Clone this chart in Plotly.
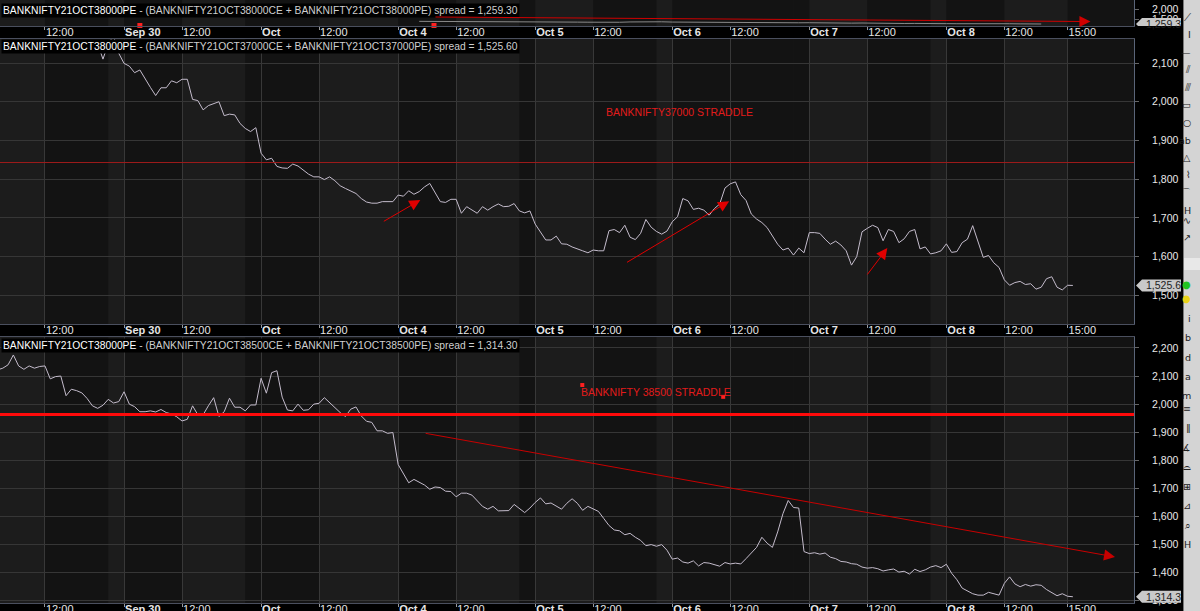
import plotly.graph_objects as go
import pandas as pd

# ---------------- data ----------------
trading_days = ["2021-09-29", "2021-09-30", "2021-10-01", "2021-10-04",
                "2021-10-05", "2021-10-06", "2021-10-07", "2021-10-08"]
day_labels = ["Sep 29", "Sep 30", "Oct", "Oct 4", "Oct 5", "Oct 6", "Oct 7", "Oct 8"]

# 15-minute closes of the 37000 straddle spread (middle pane), from 2021-09-29 14:30
mid_start = "2021-09-29 14:30"
mid_values = [
    2150, 2110, 2150, 2170, 2125, 2099, 2092, 2075, 2082, 2058,
    2037, 2016, 2036, 2036, 2054, 2049, 2058, 2058, 2006, 2003,
    1979, 1990, 1996, 2000, 1964, 1968, 1966, 1944, 1931, 1923,
    1933, 1867, 1850, 1854, 1833, 1829, 1828, 1839, 1834, 1824,
    1813, 1806, 1806, 1799, 1806, 1796, 1783, 1776, 1770, 1763,
    1750, 1741, 1738, 1738, 1742, 1742, 1742, 1759, 1756, 1770,
    1761, 1768, 1780, 1789, 1765, 1742, 1740, 1748, 1748, 1712,
    1729, 1720, 1712, 1729, 1720, 1729, 1736, 1729, 1730, 1737,
    1718, 1713, 1718, 1684, 1665, 1643, 1643, 1653, 1633, 1632,
    1625, 1621, 1615, 1610, 1617, 1615, 1615, 1667, 1670, 1662,
    1681, 1650, 1644, 1660, 1696, 1676, 1665, 1658, 1666, 1690,
    1703, 1750, 1744, 1722, 1725, 1720, 1707, 1724, 1736, 1777,
    1788, 1793, 1760, 1745, 1710, 1697, 1688, 1675, 1655, 1632,
    1617, 1622, 1604, 1622, 1610, 1662, 1662, 1660, 1645, 1632,
    1640, 1630, 1615, 1578, 1600, 1664, 1673, 1681, 1675, 1641,
    1670, 1665, 1636, 1646, 1665, 1670, 1620, 1625, 1607, 1610,
    1615, 1633, 1611, 1613, 1636, 1645, 1680, 1640, 1598, 1603,
    1584, 1572, 1540, 1526, 1533, 1536, 1528, 1530, 1516, 1521,
    1543, 1548, 1521, 1514, 1526, 1525.6,
]

# 15-minute closes of the 38500 straddle spread (bottom pane), from 2021-09-29 09:45
bot_start = "2021-09-29 09:45"
bot_values = [
    2122, 2128, 2140, 2175, 2136, 2124, 2136, 2128, 2134, 2136,
    2090, 2098, 2100, 2030, 2053, 2048, 2040, 2020, 1994, 1985,
    1996, 2017, 2004, 2009, 2044, 2000, 1991, 1973, 1973, 1976,
    1972, 1981, 1970, 1965, 1955, 1940, 1946, 1994, 1962, 1962,
    1994, 2023, 1956, 1973, 2021, 1989, 1989, 1976, 1997, 1997,
    2092, 2039, 2112, 2119, 2025, 1979, 1976, 2000, 1978, 1980,
    2000, 2003, 2023, 2005, 1985, 1970, 1956, 1982, 1990, 1958,
    1939, 1935, 1905, 1905, 1896, 1899, 1785, 1755, 1720, 1732,
    1722, 1712, 1697, 1705, 1703, 1690, 1689, 1670, 1683, 1683,
    1676, 1654, 1636, 1626, 1636, 1620, 1620, 1621, 1643, 1630,
    1614, 1630, 1650, 1666, 1645, 1648, 1636, 1626, 1647, 1663,
    1647, 1622, 1636, 1628, 1618, 1593, 1568, 1552, 1549, 1535,
    1540, 1526, 1515, 1496, 1500, 1494, 1500, 1480, 1448, 1452,
    1438, 1434, 1442, 1424, 1436, 1434, 1429, 1423, 1436, 1431,
    1434, 1431, 1450, 1470, 1490, 1526, 1505, 1490, 1545, 1610,
    1657, 1632, 1630, 1475, 1468, 1471, 1466, 1470, 1455, 1450,
    1440, 1438, 1432, 1430, 1420, 1416, 1418, 1414, 1406, 1410,
    1413, 1402, 1405, 1395, 1412, 1404, 1410, 1420, 1425, 1418,
    1430, 1398, 1375, 1345, 1335, 1325, 1320, 1320, 1330, 1326,
    1320, 1362, 1385, 1360, 1350, 1358, 1352, 1357, 1355, 1340,
    1330, 1318, 1325, 1316, 1314.3,
]

# 30-minute closes of the 38000 straddle spread (top pane), from 2021-10-04 10:15
top_start = "2021-10-04 10:15"
top_values = [
    1390, 1385, 1395, 1380, 1370, 1375, 1365, 1372, 1360, 1355,
    1350, 1362, 1358, 1345, 1340, 1352, 1348, 1340, 1335, 1345,
    1360, 1372, 1380, 1368, 1355, 1350, 1342, 1338, 1345, 1350,
    1330, 1322, 1318, 1325, 1320, 1312, 1318, 1322, 1310, 1305,
    1300, 1302, 1308, 1296, 1290, 1292, 1285, 1288, 1295, 1280,
    1276, 1272, 1278, 1270, 1268, 1265, 1272, 1266, 1262, 1259.3,
]

mid_level = 1843      # horizontal study line, middle pane
bot_level = 1963      # horizontal study line, bottom pane

# ---------------- helpers ----------------
def session_bars():
    out = []
    for d in trading_days:
        base = pd.Timestamp(d + " 09:15")
        for i in range(26):
            out.append(base + pd.Timedelta(minutes=15 * i))
    return out

ALL_BARS = session_bars()

def bars_from(start, n, step=1):
    i0 = ALL_BARS.index(pd.Timestamp(start))
    return ALL_BARS[i0: i0 + n * step: step]

mid_x = bars_from(mid_start, len(mid_values))
bot_x = bars_from(bot_start, len(bot_values))
top_x = bars_from(top_start, len(top_values), 2)

FONT = "Liberation Sans"
LINE_C = "#c4bccc"
X_RANGE = ["2021-09-29 09:52", "2021-10-11 11:39"]

# tick labels
tickvals, ticktext = [], []
for i, d in enumerate(trading_days):
    if i > 0:
        tickvals.append(d + " 09:15")
        ticktext.append("<b>%s</b>" % day_labels[i])
    tickvals.append(d + " 12:00")
    ticktext.append("12:00")
tickvals.append(trading_days[-1] + " 15:00")
ticktext.append("15:00")

fig = go.Figure()
fig.add_trace(go.Scatter(x=top_x, y=top_values, mode="lines", line=dict(color="#8a8a8a", width=1),
                         xaxis="x", yaxis="y", hoverinfo="skip", showlegend=False))
fig.add_trace(go.Scatter(x=mid_x, y=mid_values, mode="lines", line=dict(color=LINE_C, width=1),
                         xaxis="x2", yaxis="y2", showlegend=False))
fig.add_trace(go.Scatter(x=bot_x, y=bot_values, mode="lines", line=dict(color=LINE_C, width=1),
                         xaxis="x3", yaxis="y3", showlegend=False))

H = 611.0
W = 1134.0
doms = {
    "": [1 - 26 / H, 1.0],
    "2": [1 - 324 / H, 1 - 39 / H],
    "3": [1 - 603 / H, 1 - 337 / H],
}
yranges = {"": [1160, 2445], "2": [1426, 2162], "3": [1292, 2239]}
ytickv = {"": [1500, 2000], "2": list(range(1500, 2101, 100)), "3": list(range(1300, 2201, 100))}

layout = dict(
    width=1200, height=611,
    margin=dict(l=0, r=66, t=0, b=0, autoexpand=False),
    paper_bgcolor="#000000", plot_bgcolor="#1c1c1c",
    font=dict(family=FONT, size=11, color="#e0e0e0"),
    showlegend=False,
)
for k in ["", "2", "3"]:
    layout["xaxis" + k] = dict(
        type="date", range=X_RANGE, anchor="y" + k, domain=[0, 1],
        rangebreaks=[dict(bounds=["sat", "mon"]), dict(bounds=[15.75, 9.25], pattern="hour")],
        tickmode="array", tickvals=tickvals, ticktext=ticktext,
        ticks="outside", ticklen=3, tickcolor="#9a9a9a",
        ticklabelposition="outside right", ticklabelstandoff=-4,
        tickfont=dict(family=FONT, size=11, color="#e6e6e6"),
        showgrid=(k != ""), gridcolor="#383838", gridwidth=1,
        showline=True, mirror=True, linecolor="#4a4f5e", linewidth=1,
        zeroline=False, fixedrange=True, automargin=False,
    )
    layout["yaxis" + k] = dict(
        domain=doms[k], range=yranges[k], anchor="x" + k, side="right",
        tickmode="array", tickvals=ytickv[k], tickformat=",",
        ticks="outside", ticklen=4, tickcolor="#666666",
        ticklabelstandoff=11,
        tickfont=dict(family=FONT, size=10.5, color="#e8e8e8"),
        showgrid=(k != ""), gridcolor="#363636", gridwidth=1,
        showline=True, linecolor="#5a6478", linewidth=1,
        zeroline=False, fixedrange=True, automargin=False,
    )
fig.update_layout(**layout)

shapes = []
# shading bands (darker session segments)
segs = [("09:15", "12:00"), ("12:00", "15:00"), ("15:00", "15:45")]
dark = [(0, 1), (1, 0), (1, 2), (2, 0), (3, 0), (3, 2), (4, 1), (5, 0), (5, 1), (5, 2),
        (6, 1), (7, 0), (7, 2)]
for k in ["", "2", "3"]:
    for (di, si) in dark:
        d = trading_days[di]
        x0 = d + " " + segs[si][0]
        x1 = d + " " + segs[si][1]
        if di == len(trading_days) - 1 and si == 2:
            x1 = "2021-10-11 12:00"
        shapes.append(dict(type="rect", xref="x" + k, yref=("y" + k + " domain"),
                           x0=x0, x1=x1, y0=0, y1=1, fillcolor="#131313",
                           line=dict(width=0), layer="below"))

# horizontal study lines
shapes.append(dict(type="line", xref="x2 domain", yref="y2", x0=0, x1=1, y0=mid_level, y1=mid_level,
                   line=dict(color="#9e1b1b", width=1)))
shapes.append(dict(type="line", xref="x3 domain", yref="y3", x0=0, x1=1, y0=bot_level, y1=bot_level,
                   line=dict(color="#ff0a0a", width=3)))

# right toolbar
shapes.append(dict(type="rect", xref="paper", yref="paper", x0=1184 / W, x1=1201 / W, y0=0, y1=1,
                   fillcolor="#d4d4d4", line=dict(width=0), layer="above"))
shapes.append(dict(type="rect", xref="paper", yref="paper", x0=1184 / W, x1=1201 / W,
                   y0=1 - 270 / H, y1=1 - 258 / H,
                   fillcolor="#e8e8e8", line=dict(width=0), layer="above"))
shapes.append(dict(type="line", xref="paper", yref="paper", x0=1183.5 / W, x1=1183.5 / W, y0=0, y1=1,
                   line=dict(color="#7a7a7a", width=1)))

# last-value pointer labels
for yref, val in [("y", 1259.3), ("y2", 1525.6), ("y3", 1314.3)]:
    shapes.append(dict(type="path", xref="paper", yref=yref, xsizemode="pixel", ysizemode="pixel",
                       xanchor=1.0, yanchor=val,
                       path="M 2,0 L 8,6 L 47,6 L 47,-6 L 8,-6 Z",
                       fillcolor="#c9c9c9", line=dict(width=0), layer="above"))
fig.update_layout(shapes=shapes)

ann = []
def title(text_main, text_rest, ypix):
    return dict(xref="paper", yref="paper", x=0, y=1 - ypix / H, xanchor="left", yanchor="middle",
                showarrow=False, bgcolor="#000000", borderpad=1, xshift=1,
                text="<span style='color:#ffffff'>%s</span><span style='color:#cfcfcf'>%s</span>" % (text_main, text_rest),
                font=dict(family=FONT, size=10.3))

ann.append(title("BANKNIFTY21OCT38000PE", " - (BANKNIFTY21OCT38000CE + BANKNIFTY21OCT38000PE) spread = 1,259.30", 10))
ann.append(title("BANKNIFTY21OCT38000PE", " - (BANKNIFTY21OCT37000CE + BANKNIFTY21OCT37000PE) spread = 1,525.60", 47))
ann.append(title("BANKNIFTY21OCT38000PE", " - (BANKNIFTY21OCT38500CE + BANKNIFTY21OCT38500PE) spread = 1,314.30", 345))

for yref, val, txt in [("y", 1259.3, "1,259.3"), ("y2", 1525.6, "1,525.6"), ("y3", 1314.3, "1,314.3")]:
    ann.append(dict(xref="paper", yref=yref, x=1.0, y=val, xanchor="left", yanchor="middle", xshift=10,
                    showarrow=False, text=txt, font=dict(family=FONT, size=10.5, color="#1e1e1e")))

# drawn text
ann.append(dict(xref="x2", yref="y2", x="2021-10-06 09:37", y=1973, showarrow=False,
                text="BANKNIFTY37000 STRADDLE", font=dict(family=FONT, size=10.5, color="#e21b1b")))
ann.append(dict(xref="x3", yref="y3", x="2021-10-05 15:00", y=2043, showarrow=False,
                text="BANKNIFTY 38500 STRADDLE", font=dict(family=FONT, size=10.5, color="#e21b1b")))

# drawn arrows
arrows = [
    ("x2", "y2", "2021-10-01 15:00", 1689, "2021-10-04 10:18", 1746, "#e00000", 1),
    ("x2", "y2", "2021-10-05 13:32", 1583, "2021-10-06 11:57", 1743, "#e00000", 1),
    ("x2", "y2", "2021-10-07 11:57", 1550, "2021-10-07 12:57", 1622, "#e00000", 1),
    ("x3", "y3", "2021-10-04 10:29", 1897, "2021-10-11 10:45", 1456, "#c80000", 1),
    ("x", "y", "2021-10-04 10:57", 1605, "2021-10-11 09:35", 1380, "#d00000", 1),
]
for xr, yr, xa, ya, xb, yb, c, w in arrows:
    ann.append(dict(xref=xr, yref=yr, axref=xr, ayref=yr, x=xb, y=yb, ax=xa, ay=ya,
                    showarrow=True, arrowhead=2, arrowsize=2.2, arrowwidth=w, arrowcolor=c, text=""))

# toolbar glyphs
glyphs = ["⟋", "I", "—", "⫽", "⫻", "▭", "○", "ab", "△", "⌇", "⌒", "H", "∿", "↗"]
for i, g in enumerate(glyphs):
    ann.append(dict(xref="paper", yref="paper", x=1193 / W, y=1 - (10 + i * 17.5) / H, showarrow=False,
                    text=g, font=dict(family="DejaVu Sans", size=9.5, color="#202020")))
for i, (g, c) in enumerate([("●", "#22c322"), ("●", "#e8d21a")]):
    ann.append(dict(xref="paper", yref="paper", x=1193 / W, y=1 - (284 + i * 14) / H, showarrow=False,
                    text=g, font=dict(family="DejaVu Sans", size=10, color=c)))
glyphs2 = ["i", "b", "d", "a", "m", "≡", "‖", "∡", "⌓", "⊞", "⊿", "⌕", "H"]
for i, g in enumerate(glyphs2):
    ann.append(dict(xref="paper", yref="paper", x=1193 / W, y=1 - (318 + i * 19.5) / H, showarrow=False,
                    text=g, font=dict(family="DejaVu Sans", size=9.5, color="#202020")))

fig.update_layout(annotations=ann)

# selection handles
fig.add_trace(go.Scatter(x=["2021-10-05 11:29", "2021-10-06 11:40"], y=[2068, 2026], mode="markers",
                         marker=dict(symbol="square", size=4, color="#ff2020"),
                         xaxis="x3", yaxis="y3", hoverinfo="skip", showlegend=False))
fig.add_trace(go.Scatter(x=["2021-09-30 10:00", "2021-10-04 10:57"], y=[1185, 1185], mode="markers",
                         marker=dict(symbol="square", size=5, color="#ff2020"), cliponaxis=False,
                         xaxis="x", yaxis="y", hoverinfo="skip", showlegend=False))

fig.write_html("out.html", config={"displayModeBar": False},
               post_script="document.body.style.margin='0';document.body.style.background='#000';")
